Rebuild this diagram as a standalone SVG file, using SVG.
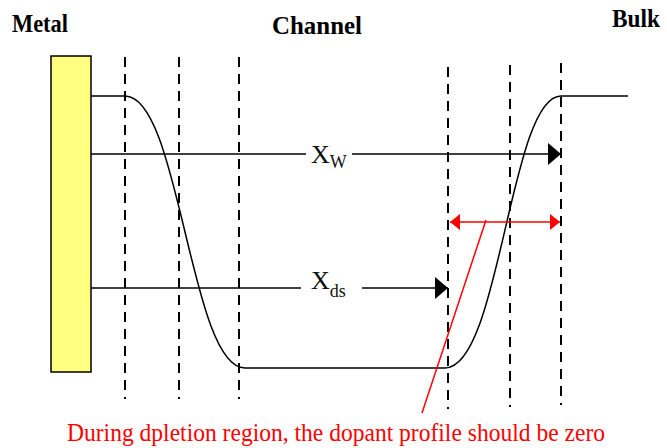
<svg xmlns="http://www.w3.org/2000/svg" width="667" height="448" viewBox="0 0 667 448">
<style>
.title{font-family:"Liberation Serif",serif;font-weight:bold;font-size:25px;fill:#000}
.lbl{font-family:"Liberation Serif",serif;font-size:26px;fill:#111}
.sub{font-size:18px}
.dash{stroke:#000;stroke-width:2;stroke-dasharray:10 7;fill:none}
.ln{stroke:#000;stroke-width:1.5;fill:none}
.red{stroke:#f00;stroke-width:1.5;fill:none}
.note{font-family:"Liberation Serif",serif;font-size:25px;fill:#f00}
</style>
<defs>
<marker id="ah" markerUnits="userSpaceOnUse" markerWidth="14" markerHeight="24" refX="13" refY="11" orient="auto">
<path d="M0,0 L13,11 L0,22 Z" fill="#000"/>
</marker>
<marker id="rh" markerUnits="userSpaceOnUse" markerWidth="11" markerHeight="18" refX="10" refY="8" orient="auto-start-reverse">
<path d="M0,0 L10,8 L0,16 Z" fill="#f00"/>
</marker>
</defs>
<rect width="667" height="448" fill="#fff"/>
<g id="titles">
<text class="title" x="12" y="32" textLength="56" lengthAdjust="spacingAndGlyphs">Metal</text>
<text class="title" x="272" y="34" textLength="90" lengthAdjust="spacingAndGlyphs">Channel</text>
<text class="title" x="612" y="27" textLength="48" lengthAdjust="spacingAndGlyphs">Bulk</text>
</g>
<g id="guides">
<line class="dash" x1="125" y1="57" x2="125" y2="399"/>
<line class="dash" x1="179" y1="57" x2="179" y2="399"/>
<line class="dash" x1="239" y1="57" x2="239" y2="399"/>
<line class="dash" x1="448" y1="67" x2="448" y2="409"/>
<line class="dash" x1="510" y1="65" x2="510" y2="407"/>
<line class="dash" x1="561" y1="63" x2="561" y2="405"/>
</g>
<g id="metal">
<rect x="51" y="56" width="40" height="316" fill="#ffff80" stroke="#000" stroke-width="1.5"/>
</g>
<g id="profile">
<path class="ln" d="M91,96 H125 C180,96 190,368 245,368 H445 C500,368 510,96 561,96 H628"/>
</g>
<g id="connectors">
<path class="ln" d="M91,154 H306"/>
<path class="ln" d="M352,154 H561" marker-end="url(#ah)"/>
<path class="ln" d="M91,288 H301"/>
<path class="ln" d="M362,288 H448" marker-end="url(#ah)"/>
<path class="red" d="M450,222 H560" marker-start="url(#rh)" marker-end="url(#rh)"/>
<path class="red" d="M486,220 L422,413"/>
</g>
<g id="xw">
<text class="lbl" x="311" y="163">X<tspan class="sub" y="168">W</tspan></text>
</g>
<g id="xds">
<text class="lbl" x="311" y="289">X<tspan class="sub" y="297">ds</tspan></text>
</g>
<g id="note">
<text class="note" x="67" y="441" textLength="538" lengthAdjust="spacingAndGlyphs">During dpletion region, the dopant profile should be zero</text>
</g>
</svg>
